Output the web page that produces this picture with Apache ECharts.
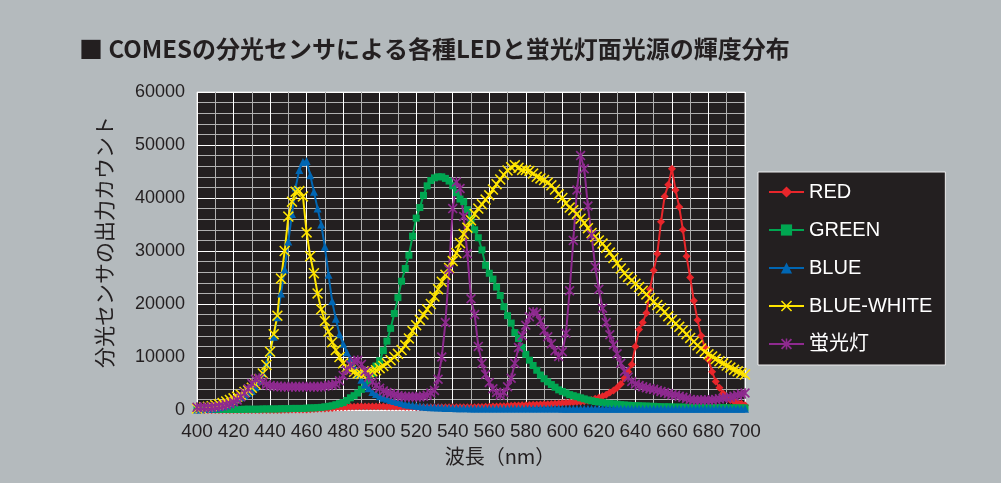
<!DOCTYPE html>
<html>
<head>
<meta charset="utf-8">
<script src="https://cdn.jsdelivr.net/npm/echarts@6/dist/echarts.min.js"></script>
<style>
  html, body { margin: 0; padding: 0; background: #b4babd; }
  #chart { width: 1001px; height: 483px; }
</style>
</head>
<body>
<div id="chart"></div>
<script>
// Wavelength samples (nm), every 2 nm
const wavelengths = [
  400,402,404,406,408,410,412,414,416,418,
  420,422,424,426,428,430,432,434,436,438,
  440,442,444,446,448,450,452,454,456,458,
  460,462,464,466,468,470,472,474,476,478,
  480,482,484,486,488,490,492,494,496,498,
  500,502,504,506,508,510,512,514,516,518,
  520,522,524,526,528,530,532,534,536,538,
  540,542,544,546,548,550,552,554,556,558,
  560,562,564,566,568,570,572,574,576,578,
  580,582,584,586,588,590,592,594,596,598,
  600,602,604,606,608,610,612,614,616,618,
  620,622,624,626,628,630,632,634,636,638,
  640,642,644,646,648,650,652,654,656,658,
  660,662,664,666,668,670,672,674,676,678,
  680,682,684,686,688,690,692,694,696,698,
  700
];

// Sensor output counts per light source
const redLED = [
  0,0,0,0,0,0,0,0,0,0,
  0,0,0,0,0,0,0,0,0,0,
  0,0,0,0,50,50,100,100,100,100,
  100,150,200,250,300,300,350,400,450,500,
  500,550,600,600,650,650,650,650,650,650,
  650,650,600,600,600,600,600,550,550,550,
  500,500,500,500,500,500,500,500,500,500,
  500,500,500,500,500,500,500,550,550,600,
  600,650,650,700,700,750,800,850,850,900,
  900,950,1000,1000,1050,1100,1100,1150,1200,1250,
  1300,1350,1400,1450,1500,1550,1650,1750,1900,2100,
  2300,2600,2900,3300,3700,4200,4900,6000,7200,8600,
  12000,15200,16500,18300,22800,26300,29500,35500,40300,42500,
  45500,41500,38300,34000,29000,25000,20600,17000,14000,11800,
  9500,7200,5400,4200,3100,2400,1900,1600,1400,1200,
  900
];

const greenLED = [
  100,100,100,100,100,100,100,100,100,100,
  100,100,100,150,150,150,150,150,200,200,
  200,200,200,250,250,250,300,300,300,300,
  350,400,400,450,500,600,700,800,1000,1200,
  1400,1800,2300,2700,3200,3900,4600,5600,6900,8300,
  9300,11200,13000,15400,18200,21200,24300,26700,29200,32800,
  36200,38200,40500,42300,43300,43800,44000,44000,43700,43200,
  42300,41000,39800,39300,37800,36000,34000,32500,30200,27300,
  25800,24700,23200,21600,19500,17800,16400,14600,13500,11800,
  10500,9400,8400,7500,6600,5900,5300,4800,4300,3800,
  3500,3200,2900,2700,2500,2300,2100,1900,1750,1600,
  1500,1400,1300,1200,1150,1100,1000,950,900,850,
  800,800,750,750,700,700,650,600,600,600,
  560,550,550,550,500,500,500,500,500,500,
  450,450,450,450,450,400,400,400,400,400,
  400
];

const blueLED = [
  100,150,200,250,300,400,500,700,900,1200,
  1600,2000,2400,2800,3200,3600,4300,5500,7000,8800,
  11000,13800,17500,22000,26500,31800,37000,42000,45300,46800,
  47000,44300,41200,38000,35000,30800,25500,20500,17200,14300,
  12500,10900,9600,8100,6800,5700,4800,4100,3400,3000,
  2600,2300,2100,1900,1700,1500,1300,1100,1000,900,
  800,700,600,550,500,500,450,450,400,400,
  400,350,350,350,350,300,300,300,300,300,
  300,300,300,300,300,300,300,300,300,300,
  300,300,300,300,300,300,300,300,300,300,
  250,250,250,250,250,250,250,250,250,250,
  250,250,250,250,250,250,250,250,250,250,
  250,250,250,250,250,250,250,250,250,250,
  250,250,250,250,250,250,250,250,250,250,
  250,250,250,250,250,250,250,250,250,250,
  250
];

const blueWhiteLED = [
  300,400,500,600,700,900,1100,1300,1600,1900,
  2200,2500,2900,3400,3700,4200,4900,5800,6900,8500,
  11000,14300,17800,24800,30000,36500,39300,41200,41300,40300,
  33500,29000,25800,22000,19000,16800,14800,12800,11300,10000,
  8800,8100,7600,7200,6900,6800,6900,7100,7300,7500,
  7900,8300,8800,9400,10000,10600,11300,12200,13500,14900,
  16000,17000,18000,19000,20000,21400,22800,24200,25500,26800,
  28100,29600,31500,33200,34400,35800,37000,38000,38800,39700,
  40500,41600,42600,43500,44400,45200,45800,46200,45700,45300,
  45300,45100,44600,44000,43700,43400,42900,42400,41600,40700,
  40000,39000,38200,37700,37000,36100,35300,34300,33400,32700,
  32000,31400,30600,29700,28700,27700,26700,25800,25100,24500,
  23800,23200,22500,21800,21100,20400,19800,19200,18500,17700,
  17000,16300,15700,15000,14300,13600,12900,12200,11600,11000,
  10500,10100,9600,9200,8800,8400,8000,7600,7300,7000,
  6700
];

const fluorescent = [
  500,500,500,500,500,600,700,800,1000,1200,
  1500,1900,2500,3200,4000,5000,5800,6000,5300,4800,
  4600,4500,4500,4400,4400,4400,4400,4400,4400,4400,
  4400,4400,4400,4400,4400,4500,4600,4700,4900,5500,
  6500,7500,8500,9200,9400,8600,7300,6200,5300,4600,
  4100,3600,3300,3100,2900,2700,2600,2500,2500,2500,
  2500,2500,2600,2800,3200,3700,5800,10000,16500,26500,
  38000,43000,41800,36500,29500,21000,18000,12000,8800,6700,
  5200,4000,3300,2800,3300,4400,6000,8800,11800,14000,
  16000,17600,18500,18300,16800,15000,13800,12500,11200,10100,
  11000,14500,22500,32000,41500,48000,45500,38500,33000,27000,
  22800,19200,16500,14200,12300,10600,8800,7300,6200,5400,
  4900,4600,4400,4200,4000,3900,3700,3500,3300,3100,
  2900,2800,2600,2400,2200,2000,1900,1900,1900,1900,
  1900,1900,2000,2100,2200,2300,2400,2600,2800,3000,
  3200
];

const seriesNames = ['RED', 'GREEN', 'BLUE', 'BLUE-WHITE', '蛍光灯'];
const xTicks = { min: 400, max: 700, step: 20 };
const yTicks = { min: 0, max: 60000, step: 10000 };

// marker shapes: filled "x" and asterisk
const CROSS = 'path://M0,1 L1,0 L5,4 L9,0 L10,1 L6,5 L10,9 L9,10 L5,6 L1,10 L0,9 L4,5 Z';
const ASTERISK = 'path://M0,1.2 L1.2,0 L5,3.8 L8.8,0 L10,1.2 L6.2,5 L10,8.8 L8.8,10 L5,6.2 L1.2,10 L0,8.8 L3.8,5 Z M4.3,0 L5.7,0 L5.7,10 L4.3,10 Z';

const toPairs = vals => wavelengths.map((w, i) => [w, vals[i]]);

function lineSeries(name, vals, color, symbol, size) {
  return {
    name: name,
    type: 'line',
    data: toPairs(vals),
    symbol: symbol,
    symbolSize: size,
    showSymbol: true,
    showAllSymbol: true,
    lineStyle: { color: color, width: 2 },
    itemStyle: { color: color },
    emphasis: { disabled: true }
  };
}

const chart = echarts.init(document.getElementById('chart'));
chart.setOption({
  animation: false,
  backgroundColor: '#b4babd',
  title: {
    text: '■ COMESの分光センサによる各種LEDと蛍光灯面光源の輝度分布',
    left: 74,
    top: 32,
    textStyle: {
      fontFamily: "'Noto Sans CJK JP', sans-serif",
      fontSize: 24,
      fontWeight: 'bold',
      color: '#231f20'
    }
  },
  grid: {
    left: 197,
    right: 256,
    top: 92,
    bottom: 73,
    show: true,
    backgroundColor: '#231f20',
    borderColor: '#e6e6e6',
    borderWidth: 1
  },
  legend: {
    orient: 'vertical',
    left: 758,
    top: 172,
    backgroundColor: '#231f20',
    borderColor: '#eeeeee',
    borderWidth: 1,
    padding: [10, 13, 11, 10],
    itemWidth: 35,
    itemHeight: 14,
    itemGap: 18,
    textStyle: {
      color: '#ffffff',
      fontSize: 20,
      lineHeight: 20,
      fontFamily: "'Liberation Sans', 'Noto Sans CJK JP', sans-serif"
    },
    data: seriesNames
  },
  xAxis: {
    type: 'value',
    min: xTicks.min,
    max: xTicks.max,
    interval: xTicks.step,
    name: '波長（nm）',
    nameLocation: 'middle',
    nameGap: 36,
    nameTextStyle: {
      fontFamily: "'Noto Sans CJK JP', sans-serif",
      fontSize: 20,
      color: '#231f20',
      padding: [0, 0, 0, 58]
    },
    axisLine: { show: false },
    axisTick: { show: false },
    axisLabel: {
      margin: 12,
      fontFamily: "'Liberation Sans Narrow', 'Liberation Sans', sans-serif",
      fontSize: 19,
      color: '#231f20'
    },
    splitLine: { show: true, lineStyle: { color: '#ffffff', width: 1 } },
    minorTick: { show: false, splitNumber: 2 },
    minorSplitLine: { show: true, lineStyle: { color: '#b0b0b0', width: 1 } }
  },
  yAxis: {
    type: 'value',
    min: yTicks.min,
    max: yTicks.max,
    interval: yTicks.step,
    name: '分光センサの出力カウント',
    nameLocation: 'middle',
    nameRotate: 90,
    nameGap: 82,
    nameTextStyle: {
      fontFamily: "'Noto Sans CJK JP', sans-serif",
      fontSize: 21,
      color: '#231f20',
      padding: [0, 0, 0, 18]
    },
    axisLine: { show: false },
    axisTick: { show: false },
    axisLabel: {
      margin: 12,
      fontFamily: "'Liberation Sans', sans-serif",
      fontSize: 18,
      color: '#231f20',
      formatter: value => String(value)
    },
    splitLine: { show: true, lineStyle: { color: '#ffffff', width: 1 } },
    minorTick: { show: false, splitNumber: 5 },
    minorSplitLine: { show: true, lineStyle: { color: '#b0b0b0', width: 1 } }
  },
  series: [
    lineSeries(seriesNames[0], redLED, '#e8262b', 'diamond', 8),
    lineSeries(seriesNames[1], greenLED, '#00a651', 'rect', 7),
    lineSeries(seriesNames[2], blueLED, '#0066b3', 'triangle', 8),
    lineSeries(seriesNames[3], blueWhiteLED, '#ffe500', CROSS, 11),
    lineSeries(seriesNames[4], fluorescent, '#8e2a8f', ASTERISK, 10)
  ]
});
</script>
</body>
</html>
